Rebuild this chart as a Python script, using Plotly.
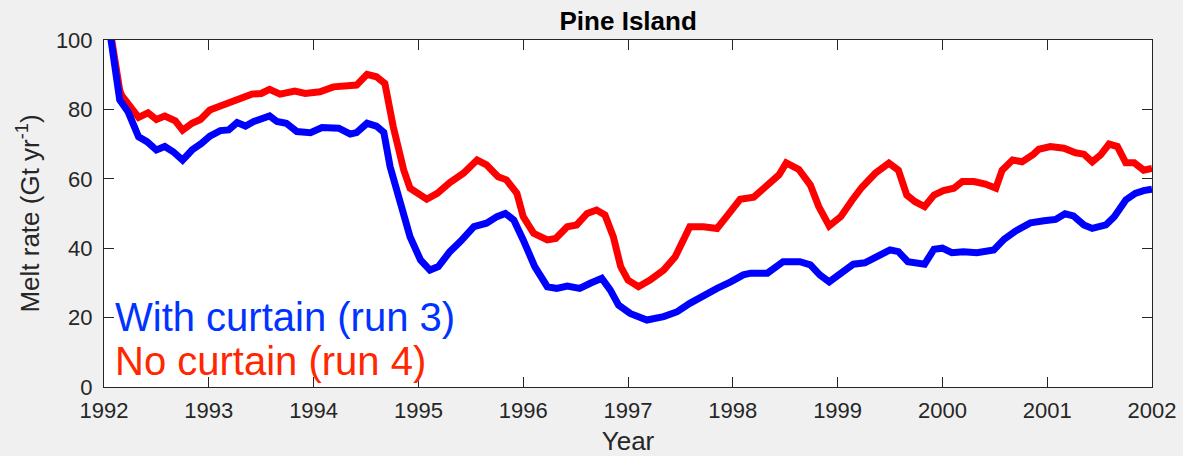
import plotly.graph_objects as go

# Years and values, "With curtain (run 3)"
blue_years = [1992.00, 1992.07, 1992.15, 1992.23, 1992.33, 1992.41, 1992.50, 1992.58, 1992.66, 1992.75,
              1992.84, 1992.93, 1993.01, 1993.11, 1993.19, 1993.27, 1993.35, 1993.43, 1993.50, 1993.58,
              1993.65, 1993.74, 1993.84, 1993.97, 1994.08, 1994.24, 1994.35, 1994.41, 1994.51, 1994.60,
              1994.67, 1994.73, 1994.83, 1994.92, 1995.02, 1995.11, 1995.19, 1995.30, 1995.40, 1995.53,
              1995.65, 1995.75, 1995.83, 1995.91, 1996.00, 1996.11, 1996.23, 1996.32, 1996.42, 1996.54,
              1996.64, 1996.75, 1996.83, 1996.91, 1997.02, 1997.18, 1997.34, 1997.47, 1997.59, 1997.72,
              1997.85, 1997.98, 1998.10, 1998.17, 1998.33, 1998.48, 1998.64, 1998.74, 1998.83, 1998.92,
              1999.03, 1999.15, 1999.26, 1999.38, 1999.50, 1999.58, 1999.67, 1999.83, 1999.92, 2000.00,
              2000.09, 2000.20, 2000.33, 2000.49, 2000.59, 2000.70, 2000.84, 2000.97, 2001.08, 2001.17,
              2001.25, 2001.35, 2001.43, 2001.56, 2001.64, 2001.75, 2001.84, 2001.92, 2002.00]
blue_values = [114.0, 100.0, 82.7, 79.3, 72.1, 70.7, 68.3, 69.3, 67.8, 65.4,
               68.3, 70.2, 72.3, 73.9, 74.1, 76.2, 75.2, 76.5, 77.1, 78.1,
               76.5, 76.0, 73.6, 73.3, 74.8, 74.6, 72.9, 73.3, 76.0, 75.2,
               73.4, 63.5, 52.9, 43.3, 36.6, 33.7, 34.7, 39.0, 41.9, 46.2,
               47.2, 49.1, 50.0, 48.1, 42.4, 34.7, 28.9, 28.4, 29.1, 28.4,
               29.9, 31.3, 28.0, 23.6, 21.2, 19.3, 20.3, 21.7, 24.1, 26.5,
               28.4, 30.3, 32.3, 32.8, 32.8, 36.1, 36.1, 35.2, 32.3, 30.3,
               32.8, 35.4, 35.8, 37.8, 39.5, 39.0, 36.1, 35.4, 39.7, 40.0,
               38.7, 39.0, 38.7, 39.5, 42.6, 45.0, 47.3, 47.9, 48.3, 49.9,
               49.3, 46.7, 45.7, 46.7, 49.1, 53.9, 55.8, 56.6, 57.0]

# Years and values, "No curtain (run 4)"
red_years = [1992.00, 1992.07, 1992.15, 1992.17, 1992.33, 1992.42, 1992.50, 1992.58, 1992.68, 1992.75,
             1992.84, 1992.92, 1993.01, 1993.11, 1993.20, 1993.30, 1993.41, 1993.50, 1993.58, 1993.68,
             1993.82, 1993.92, 1994.06, 1994.19, 1994.32, 1994.41, 1994.51, 1994.60, 1994.68, 1994.76,
             1994.86, 1994.92, 1995.08, 1995.18, 1995.30, 1995.43, 1995.56, 1995.65, 1995.76, 1995.84,
             1995.94, 1996.00, 1996.10, 1996.23, 1996.31, 1996.42, 1996.51, 1996.61, 1996.70, 1996.78,
             1996.86, 1996.93, 1997.00, 1997.10, 1997.21, 1997.34, 1997.45, 1997.53, 1997.59, 1997.72,
             1997.85, 1997.94, 1998.07, 1998.20, 1998.33, 1998.44, 1998.51, 1998.63, 1998.74, 1998.82,
             1998.92, 1999.03, 1999.14, 1999.23, 1999.36, 1999.49, 1999.58, 1999.66, 1999.74, 1999.83,
             1999.92, 2000.01, 2000.11, 2000.19, 2000.30, 2000.41, 2000.51, 2000.57, 2000.67, 2000.76,
             2000.87, 2000.92, 2001.03, 2001.16, 2001.27, 2001.35, 2001.43, 2001.51, 2001.59, 2001.67,
             2001.75, 2001.83, 2001.92, 2002.00]
red_values = [114.0, 100.0, 85.5, 84.0, 77.7, 79.0, 77.1, 78.1, 76.7, 74.0,
              76.0, 77.1, 79.8, 81.0, 82.0, 82.9, 84.4, 84.6, 85.8, 84.4,
              85.3, 84.6, 85.1, 86.5, 86.5, 87.0, 90.1, 89.4, 87.5, 75.0,
              62.5, 57.3, 54.1, 55.8, 58.9, 61.6, 65.4, 64.0, 60.6, 59.7,
              55.8, 49.1, 44.3, 42.4, 42.8, 46.2, 46.7, 50.0, 51.0, 49.6,
              43.3, 34.7, 30.8, 28.9, 30.8, 33.7, 37.5, 42.4, 46.2, 46.2,
              45.7, 49.1, 54.1, 54.7, 58.2, 61.1, 64.6, 62.7, 58.2, 52.0,
              46.4, 49.1, 53.9, 57.5, 61.6, 64.5, 62.5, 55.3, 53.4, 52.0,
              55.3, 56.6, 57.3, 59.2, 59.2, 58.5, 57.3, 62.5, 65.4, 64.9,
              67.1, 68.5, 69.3, 68.8, 67.5, 67.1, 64.9, 66.9, 70.0, 69.3,
              64.6, 64.6, 62.5, 63.0]

x_ticks = [1992, 1993, 1994, 1995, 1996, 1997, 1998, 1999, 2000, 2001, 2002]
y_ticks = [0, 20, 40, 60, 80, 100]

FONT = "Liberation Sans, Arial, Helvetica, sans-serif"
AX = "#262626"

fig = go.Figure()
fig.add_trace(go.Scatter(x=red_years, y=red_values, mode="lines",
                         line=dict(color="#ff0000", width=7), name="No curtain (run 4)",
                         showlegend=False))
fig.add_trace(go.Scatter(x=blue_years, y=blue_values, mode="lines",
                         line=dict(color="#0000ff", width=7), name="With curtain (run 3)",
                         showlegend=False))

fig.add_annotation(x=1992.09, y=20.3, xref="x", yref="y", text="With curtain (run 3)",
                   showarrow=False, xanchor="left", yanchor="middle",
                   font=dict(family=FONT, size=40, color="#0033ff"))
fig.add_annotation(x=1992.09, y=7.6, xref="x", yref="y", text="No curtain (run 4)",
                   showarrow=False, xanchor="left", yanchor="middle",
                   font=dict(family=FONT, size=40, color="#ff2600"))

fig.update_layout(
    width=1183, height=456,
    margin=dict(l=104, r=31, t=40, b=69, autoexpand=False),
    paper_bgcolor="#f0f0f0", plot_bgcolor="#ffffff",
    font=dict(family=FONT, color=AX),
    title=dict(text="<b>Pine Island</b>", x=0.531, xanchor="center",
               y=1 - 21 / 456, yanchor="middle", yref="container",
               font=dict(family=FONT, size=26, color="#000000")),
    xaxis=dict(range=[1992, 2002], tickvals=x_ticks, ticktext=[str(t) for t in x_ticks],
               ticks="inside", ticklen=10, tickwidth=1, tickcolor=AX,
               showline=True, linecolor=AX, linewidth=1, mirror="ticks",
               showgrid=False, zeroline=False, ticklabelstandoff=4, automargin=False,
               tickfont=dict(family=FONT, size=22, color=AX),
               title=dict(text="Year", font=dict(family=FONT, size=26, color=AX), standoff=10)),
    yaxis=dict(range=[0, 100], tickvals=y_ticks,
               ticks="inside", ticklen=10, tickwidth=1, tickcolor=AX,
               showline=True, linecolor=AX, linewidth=1, mirror="ticks",
               showgrid=False, zeroline=False, ticklabelstandoff=6, automargin=False,
               tickfont=dict(family=FONT, size=22, color=AX),
               title=dict(text="Melt rate (Gt yr<sup>-1</sup>)",
                          font=dict(family=FONT, size=26, color=AX), standoff=8)),
)

fig.write_html("out.html")
